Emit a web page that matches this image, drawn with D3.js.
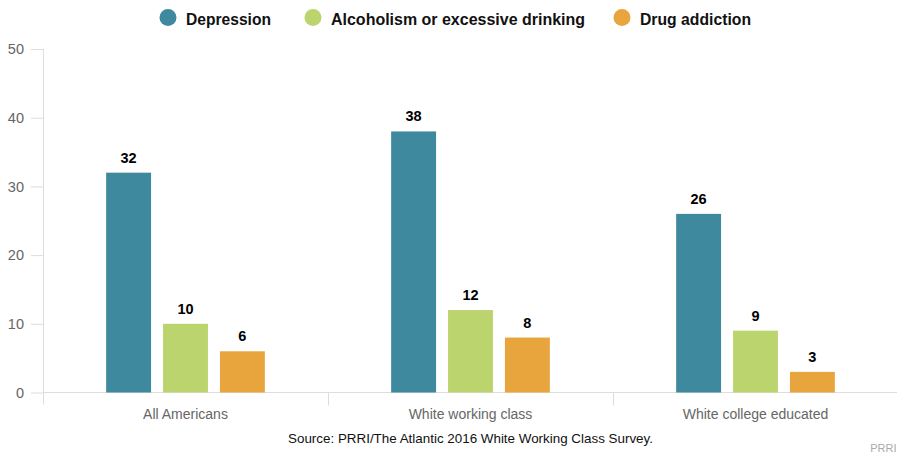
<!DOCTYPE html>
<html>
<head>
<meta charset="utf-8">
<script src="https://cdn.jsdelivr.net/npm/d3@7"></script>
<style>
  html, body { margin: 0; padding: 0; background: #fff; }
  svg { display: block; font-family: "Liberation Sans", Arial, sans-serif; }
</style>
</head>
<body>
<svg id="chart" width="897" height="457"></svg>
<script>
// Share of respondents who say each issue is a major problem in their community
const categories = ["All Americans", "White working class", "White college educated"];
const seriesNames = ["Depression", "Alcoholism or excessive drinking", "Drug addiction"];
const depression = [32, 38, 26];
const alcoholism = [10, 12, 9];
const drugAddiction = [6, 8, 3];
const yTicks = [0, 10, 20, 30, 40, 50];
const colors = ["#3e899d", "#bbd46e", "#e8a53e"];

const seriesValues = [depression, alcoholism, drugAddiction];
const FONT = "'Liberation Sans', Arial, sans-serif";
const svg = d3.select("#chart");

const plotLeft = 43, plotRight = 898, plotTop = 49, plotBottom = 392.5;

const x = d3.scaleBand().domain(categories).range([plotLeft, plotRight]);
const xInner = d3.scaleBand().domain(seriesNames).range([0, x.bandwidth()])
  .paddingInner(0.2105).paddingOuter(1.11);
const y = d3.scaleLinear().domain([0, 50]).range([plotBottom, plotTop]);

// Y axis
const yAxis = svg.append("g").attr("transform", `translate(${plotLeft},0)`)
  .call(d3.axisLeft(y).tickValues(yTicks).tickSize(12).tickPadding(7));
yAxis.select(".domain").remove();
yAxis.selectAll(".tick line").attr("stroke", "#ddd");
yAxis.selectAll(".tick text").attr("fill", "#666").style("font-size", "14.5px")
  .style("font-family", FONT);
svg.append("line").attr("x1", plotLeft + 0.5).attr("x2", plotLeft + 0.5)
  .attr("y1", y(50)).attr("y2", plotBottom + 12).attr("stroke", "#ddd");

// X axis
const xAxis = svg.append("g").attr("transform", `translate(0,${plotBottom})`)
  .call(d3.axisBottom(x).tickSize(0).tickPadding(17));
xAxis.select(".domain").attr("stroke", "#ddd").attr("d", `M${plotLeft},0H${plotRight}`);
xAxis.selectAll(".tick text").attr("fill", "#666").style("font-size", "14px")
  .style("font-family", FONT);
// Separators between categories
xAxis.selectAll(".sep").data(categories.slice(1)).join("line")
  .attr("class", "sep")
  .attr("x1", d => x(d) + 0.5).attr("x2", d => x(d) + 0.5)
  .attr("y1", 0).attr("y2", 13).attr("stroke", "#ddd");

// Bars
const groups = svg.append("g").selectAll("g").data(categories).join("g")
  .attr("transform", d => `translate(${x(d)},0)`);

groups.each(function(cat, ci) {
  const g = d3.select(this);
  const rows = seriesNames.map((s, si) => ({ s, si, v: seriesValues[si][ci] }));
  g.selectAll("rect").data(rows).join("rect")
    .attr("x", d => xInner(d.s))
    .attr("y", d => y(d.v))
    .attr("width", xInner.bandwidth())
    .attr("height", d => plotBottom - y(d.v))
    .attr("fill", d => colors[d.si]);
  g.selectAll("text").data(rows).join("text")
    .attr("x", d => xInner(d.s) + xInner.bandwidth() / 2)
    .attr("y", d => y(d.v) - 10)
    .attr("text-anchor", "middle")
    .attr("font-size", "14.5px").attr("font-weight", "bold").attr("fill", "#000")
    .text(d => d.v);
});

// Legend
const legendX = [168, 313, 622];
const legendTextWidth = [85, 254, 111];
const legend = svg.append("g").selectAll("g").data(seriesNames).join("g")
  .attr("transform", (d, i) => `translate(${legendX[i]},17.5)`);
legend.append("ellipse").attr("rx", 8.5).attr("ry", 8.5)
  .attr("fill", (d, i) => colors[i]);
legend.append("text").attr("x", 18).attr("y", 7)
  .attr("font-size", "16.5px").attr("font-weight", "bold").attr("fill", "#111")
  .attr("textLength", (d, i) => legendTextWidth[i])
  .attr("lengthAdjust", "spacingAndGlyphs")
  .text(d => d);

// Source and credit
svg.append("text").attr("x", (plotLeft + plotRight) / 2).attr("y", 443)
  .attr("text-anchor", "middle")
  .attr("font-size", "13.4px").attr("fill", "#111")
  .text("Source: PRRI/The Atlantic 2016 White Working Class Survey.");
svg.append("text").attr("x", 896.5).attr("y", 451.5).attr("text-anchor", "end")
  .attr("font-size", "11px").attr("fill", "#aaa").text("PRRI");
</script>
</body>
</html>
